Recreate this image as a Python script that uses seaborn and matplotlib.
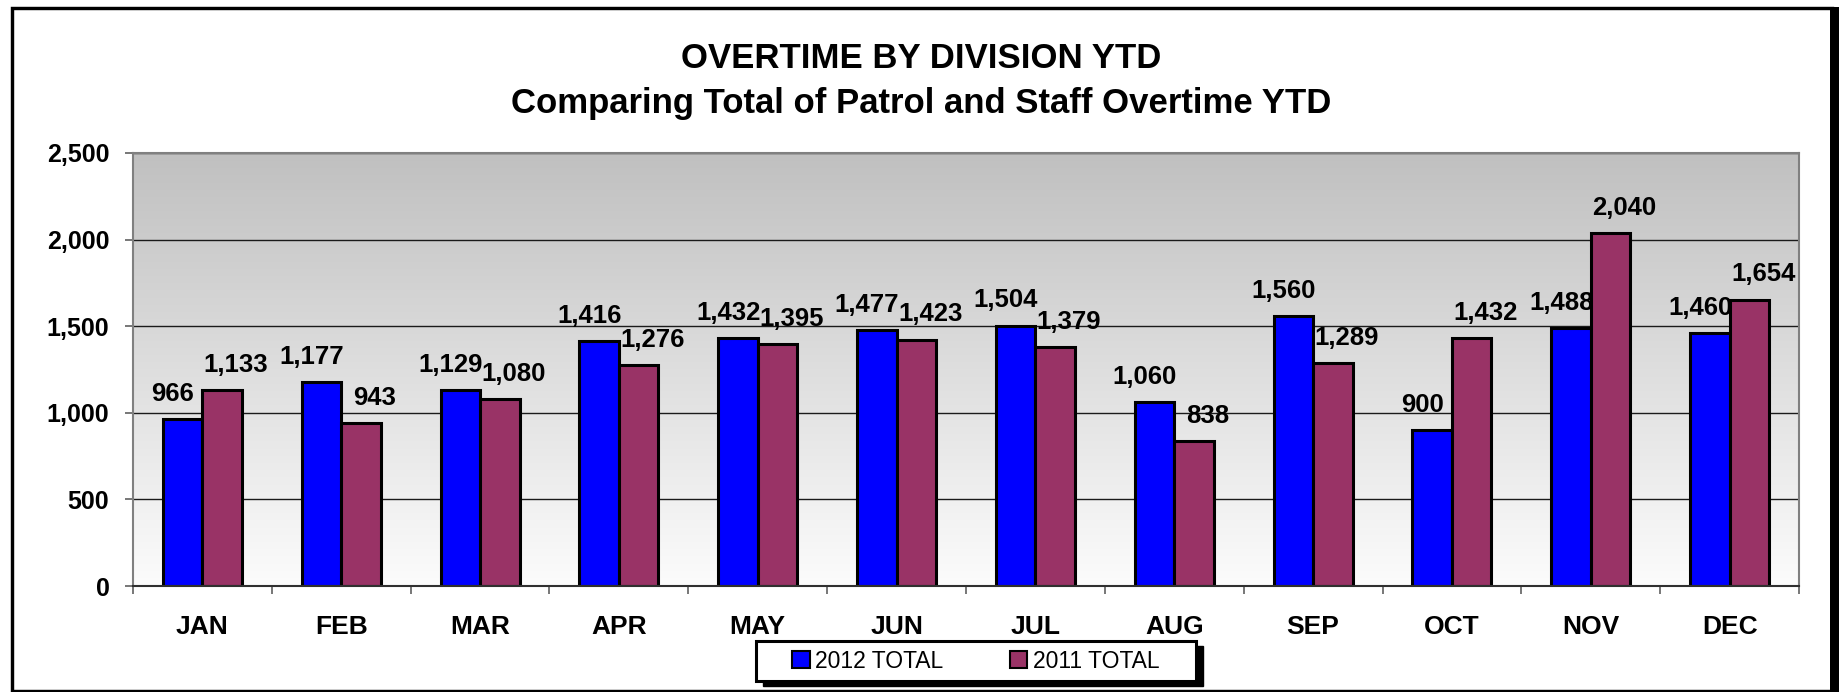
import numpy as np
import pandas as pd
import matplotlib
matplotlib.use("Agg")
import matplotlib.pyplot as plt
from matplotlib.patches import Rectangle, Patch
from matplotlib.ticker import FuncFormatter
import seaborn as sns

# chart data
months = ['JAN', 'FEB', 'MAR', 'APR', 'MAY', 'JUN',
          'JUL', 'AUG', 'SEP', 'OCT', 'NOV', 'DEC']
total_2012 = [966, 1177, 1129, 1416, 1432, 1477, 1504, 1060, 1560, 900, 1488, 1460]
total_2011 = [1133, 943, 1080, 1276, 1395, 1423, 1379, 838, 1289, 1432, 2040, 1654]
series = ['2012 TOTAL', '2011 TOTAL']
y_ticks = [0, 500, 1000, 1500, 2000, 2500]
colors = ['#0000FF', '#993366']

df = pd.DataFrame({
    'Month': months * 2,
    'Overtime': total_2012 + total_2011,
    'Series': [series[0]] * len(months) + [series[1]] * len(months),
})

sns.set_theme(style='white')
plt.rcParams['font.family'] = ['Liberation Sans', 'DejaVu Sans']
plt.rcParams['font.weight'] = 'bold'
plt.rcParams['text.color'] = 'black'
plt.rcParams['xtick.color'] = 'black'
plt.rcParams['ytick.color'] = 'black'

W, H = 1839, 692
fig = plt.figure(figsize=(W / 100, H / 100), dpi=100)
fig.patch.set_facecolor('white')

def px(x, y_top):
    # pixel position (origin top-left) -> figure fraction
    return x / W, (H - y_top) / H

ax = fig.add_axes([133 / W, (H - 586) / H, (1799 - 133) / W, (586 - 153) / H])

# grey-to-white gradient behind the bars
grad = np.linspace(192, 252, 256)[:, None] / 255
ax.imshow(np.dstack([grad] * 3), extent=(0, 1, 0, 1), transform=ax.transAxes,
          aspect='auto', zorder=0, interpolation='bilinear')

sns.barplot(data=df, x='Month', y='Overtime', hue='Series', palette=colors,
            width=0.57, gap=0, saturation=1, edgecolor='black', linewidth=2.2,
            legend=False, ax=ax, zorder=2)

# value labels, nudged apart like the Excel original
offsets = [-7, 10]
for cont, dx in zip(ax.containers, offsets):
    for bar in cont:
        val = bar.get_height()
        ax.annotate(f'{int(round(val)):,}',
                    (bar.get_x() + bar.get_width() / 2, val),
                    xytext=(dx, 13), textcoords='offset points',
                    ha='center', va='baseline', fontsize=18.5,
                    fontweight='bold', color='black', zorder=3)

ax.set_xlim(-0.5, len(months) - 0.5)
ax.set_ylim(0, 2500)
ax.set_yticks(y_ticks)
ax.yaxis.set_major_formatter(FuncFormatter(lambda v, p: f'{int(v):,}'))
ax.set_xticks(range(len(months)))
ax.set_xticklabels(months)
ax.set_xticks(np.arange(-0.5, len(months), 1), minor=True)
ax.set_xlabel('')
ax.set_ylabel('')

ax.set_axisbelow(True)
ax.yaxis.grid(True, color='#1a1a1a', linewidth=1.0, zorder=0.5)
ax.xaxis.grid(False)

ax.tick_params(axis='y', left=True, length=6, width=1.2, color='#606060',
               direction='out', pad=11, labelsize=18, labelcolor='black')
ax.tick_params(axis='x', which='major', bottom=True, length=0, pad=21,
               labelsize=19, labelcolor='black')
ax.tick_params(axis='x', which='minor', bottom=True, length=6, width=1.2,
               color='#606060', direction='out')

for side in ['left', 'top', 'right']:
    ax.spines[side].set_color('#808080')
    ax.spines[side].set_linewidth(1.5)
ax.spines['bottom'].set_color('#303030')
ax.spines['bottom'].set_linewidth(1.5)

# title
fig.text(921 / W, (H - 59) / H, 'OVERTIME BY DIVISION YTD', ha='center',
         va='center', fontsize=25, fontweight='bold', color='black')
fig.text(921 / W, (H - 104) / H, 'Comparing Total of Patrol and Staff Overtime YTD',
         ha='center', va='center', fontsize=25, fontweight='bold', color='black')

# legend box with drop shadow
lx0, lx1, ly0, ly1 = 756, 1196, 641, 681
x0, y0 = px(lx0 + 7, ly1 + 5)
fig.add_artist(Rectangle((x0, y0), (lx1 - lx0) / W, (ly1 - ly0) / H,
                         transform=fig.transFigure, facecolor='black',
                         edgecolor='black', zorder=4))
x0, y0 = px(lx0, ly1)
fig.add_artist(Rectangle((x0, y0), (lx1 - lx0) / W, (ly1 - ly0) / H,
                         transform=fig.transFigure, facecolor='white',
                         edgecolor='black', linewidth=2.2, zorder=5))
handles = [Patch(facecolor=c, edgecolor='black', linewidth=1.5) for c in colors]
leg = fig.legend(handles, series, loc='center',
                 bbox_to_anchor=((lx0 + lx1) / 2 / W, (H - (ly0 + ly1) / 2) / H),
                 bbox_transform=fig.transFigure, ncol=2, frameon=False,
                 prop={'size': 16.5, 'weight': 'normal'},
                 handlelength=0.75, handleheight=0.75, handletextpad=0.25,
                 columnspacing=2.9, borderpad=0.2)
leg.set_zorder(6)
for t in leg.get_texts():
    t.set_color('black')

# outer chart border
x0, y0 = px(12.3, 690.5)
fig.add_artist(Rectangle((x0, y0), (1832 - 12.3) / W, (690.5 - 8.3) / H,
                         transform=fig.transFigure, fill=False,
                         edgecolor='black', linewidth=2.45, zorder=10))
x0, y0 = px(1830, 692)
fig.add_artist(Rectangle((x0, y0), 9 / W, (692 - 7) / H,
                         transform=fig.transFigure, facecolor='black',
                         edgecolor='none', zorder=10))

fig.savefig('out.png', dpi=100, facecolor='white')
